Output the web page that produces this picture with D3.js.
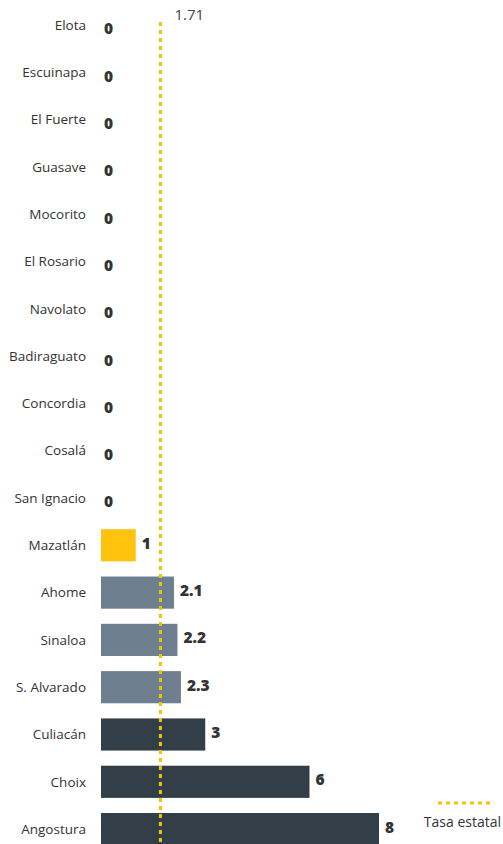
<!DOCTYPE html>
<html lang="es">
<head>
    <meta charset="UTF-8">
    <title>Tasa por municipio</title>
    <script src="https://d3js.org/d3.v7.min.js"></script>
    <style>
        body { margin: 0; padding: 0; background: #fff; }
        .cat { font-family: 'Open Sans', sans-serif; font-size: 13.5px; fill: #333; }
        .val { font-family: 'Open Sans', sans-serif; font-size: 15.5px; font-weight: 800; fill: #333; }
        .note { font-family: 'Open Sans', sans-serif; font-size: 15px; fill: #444; }
    </style>
</head>
<body>
    <svg id="chart"></svg>
    <script>
        // datos
        const municipios = ["Elota", "Escuinapa", "El Fuerte", "Guasave", "Mocorito", "El Rosario",
            "Navolato", "Badiraguato", "Concordia", "Cosalá", "San Ignacio", "Mazatlán",
            "Ahome", "Sinaloa", "S. Alvarado", "Culiacán", "Choix", "Angostura"];
        const tasas = [0, 0, 0, 0, 0, 0, 0, 0, 0, 0, 0, 1, 2.1, 2.2, 2.3, 3, 6, 8];
        const grupos = ["cero", "cero", "cero", "cero", "cero", "cero", "cero", "cero", "cero", "cero", "cero",
            "bajo", "medio", "medio", "medio", "alto", "alto", "alto"];
        const tasaEstatal = 1.71;
        const leyenda = "Tasa estatal";

        const W = 503, H = 844;
        const svg = d3.select("#chart").attr("width", W).attr("height", H);

        const data = municipios.map((m, i) => ({ name: m, value: tasas[i], grupo: grupos[i] }));

        const x = d3.scaleLinear().domain([0, 8]).range([101, 379]);
        const step = 47.3;
        const first = 25; // centro de la primera fila
        const y = d3.scaleBand()
            .domain(municipios)
            .range([first - step / 2, first + step * (municipios.length - 0.5)])
            .paddingInner(0.32)
            .paddingOuter(0.16);

        const color = d3.scaleOrdinal()
            .domain(["cero", "bajo", "medio", "alto"])
            .range(["#323e48", "#ffc20e", "#6e7f8f", "#323e48"]);

        // barras
        svg.selectAll(".bar")
            .data(data)
            .join("rect")
            .attr("class", "bar")
            .attr("x", x(0))
            .attr("y", d => y(d.name))
            .attr("width", d => x(d.value) - x(0))
            .attr("height", y.bandwidth())
            .attr("fill", d => color(d.grupo));

        // nombres
        svg.selectAll(".cat")
            .data(data)
            .join("text")
            .attr("class", "cat")
            .attr("x", 86)
            .attr("y", d => y(d.name) + y.bandwidth() / 2)
            .attr("dy", "0.35em")
            .attr("text-anchor", "end")
            .text(d => d.name);

        // valores
        svg.selectAll(".val")
            .data(data)
            .join("text")
            .attr("class", "val")
            .attr("x", d => x(d.value) + (d.value === 0 ? 3 : 6))
            .attr("y", d => y(d.name) + y.bandwidth() / 2 + (d.value === 0 ? 4 : -2))
            .attr("dy", "0.35em")
            .text(d => d.value);

        // linea de tasa estatal
        svg.append("line")
            .attr("x1", x(tasaEstatal)).attr("x2", x(tasaEstatal))
            .attr("y1", 22).attr("y2", H)
            .attr("stroke", "#f5c400")
            .attr("stroke-width", 3)
            .attr("stroke-dasharray", "4,4");

        svg.append("text")
            .attr("class", "note")
            .attr("x", x(tasaEstatal) + 14)
            .attr("y", 20)
            .text(d3.format(".2f")(tasaEstatal));

        // leyenda
        svg.append("line")
            .attr("x1", 438).attr("x2", 490)
            .attr("y1", 803).attr("y2", 803)
            .attr("stroke", "#f5c400")
            .attr("stroke-width", 3)
            .attr("stroke-dasharray", "4,4");

        svg.append("text")
            .attr("class", "note")
            .attr("x", 501)
            .attr("y", 827)
            .attr("text-anchor", "end")
            .style("font-size", "14px")
            .style("fill", "#333")
            .text(leyenda);
    </script>
</body>
</html>
